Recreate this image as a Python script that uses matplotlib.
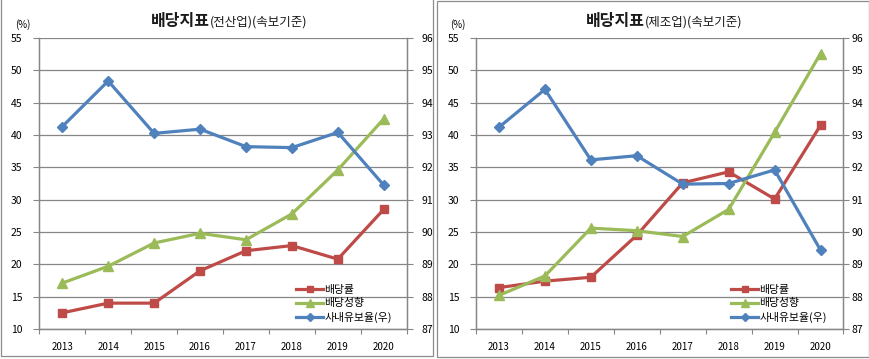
import matplotlib
matplotlib.use("Agg")
import matplotlib.pyplot as plt
from matplotlib.patches import Rectangle

plt.rcParams['font.family'] = ['Noto Sans CJK KR', 'DejaVu Sans']

years = ['2013', '2014', '2015', '2016', '2017', '2018', '2019', '2020']

# 전산업
all_rate = [12.5, 14.0, 14.0, 19.0, 22.1, 22.9, 20.8, 28.5]
all_payout = [17.1, 19.7, 23.3, 24.8, 23.8, 27.8, 34.6, 42.5]
all_retain = [93.26, 94.67, 93.05, 93.18, 92.64, 92.61, 93.08, 91.45]

# 제조업
mfg_rate = [16.4, 17.4, 18.0, 24.5, 32.6, 34.3, 30.1, 41.5]
mfg_payout = [15.2, 18.2, 25.6, 25.2, 24.3, 28.5, 40.4, 52.6]
mfg_retain = [93.24, 94.41, 92.23, 92.36, 91.48, 91.50, 91.92, 89.44]

titles = ['배당지표', '배당지표']
subtitles = ['(전산업)(속보기준)', '(제조업)(속보기준)']
legend_labels = ['배당률', '배당성향', '사내유보율(우)']
left_ticks = [10, 15, 20, 25, 30, 35, 40, 45, 50, 55]
right_ticks = [87, 88, 89, 90, 91, 92, 93, 94, 95, 96]

W, H = 870, 359
fig = plt.figure(figsize=(W / 100, H / 100), dpi=100)

RED = '#BE4B48'
GREEN = '#9BBB59'
BLUE = '#4F81BD'
GRID = '#868686'

def fx(px):
    return px / W

def fy(py):
    return 1 - py / H

# panel borders
for (x0, y0, x1, y1) in [(1.5, -2, 433.3, 355.7), (437.3, 1, 869, 356.7)]:
    fig.patches.append(Rectangle((fx(x0), fy(y1)), fx(x1 - x0), (y1 - y0) / H,
                                 transform=fig.transFigure, fill=False,
                                 edgecolor='#8c8c8c', linewidth=0.9))

panels = [
    (39.3, 406.7, all_rate, all_payout, all_retain, 0, 7),
    (476.0, 843.5, mfg_rate, mfg_payout, mfg_retain, 1, 2),
]

top, bot = 38, 329
xs = list(range(len(years)))
for (x0, x1, rate, payout, retain, i, rpad) in panels:
    ax = fig.add_axes([fx(x0), fy(bot), fx(x1 - x0), (bot - top) / H])
    ax2 = ax.twinx()
    ax.set_xlim(-0.5, 7.5)
    ax.set_ylim(10, 55)
    ax2.set_ylim(87, 96)
    ax.set_yticks(left_ticks)
    ax2.set_yticks(right_ticks)
    ax.set_xticks(xs)
    ax.set_xticklabels(years)
    ax.set_xticks([k + 0.5 for k in range(-1, 8)], minor=True)
    ax.tick_params(axis='x', which='major', length=0, pad=9, labelsize=7)
    ax.tick_params(axis='x', which='minor', length=3.5, color=GRID, width=0.8, direction='out')
    ax.tick_params(axis='y', length=4, color=GRID, width=0.8, pad=8, labelsize=7.5)
    ax2.tick_params(axis='y', length=4, color=GRID, width=0.8, pad=rpad, labelsize=7.5)
    for a in (ax, ax2):
        a.spines['top'].set_visible(False)
        for s in ('left', 'right', 'bottom'):
            a.spines[s].set_color(GRID)
            a.spines[s].set_linewidth(0.9)
    ax.grid(axis='y', color=GRID, linewidth=0.9)
    ax.set_axisbelow(True)

    l1, = ax.plot(xs, rate, color=RED, linewidth=2.3, marker='s', markersize=6,
                  label=legend_labels[0])
    l2, = ax.plot(xs, payout, color=GREEN, linewidth=2.3, marker='^', markersize=6.5,
                  label=legend_labels[1])
    l3, = ax2.plot(xs, retain, color=BLUE, linewidth=2.3, marker='D', markersize=5.5,
                   label=legend_labels[2])

    off = 0 if i == 0 else 435
    ax2.legend(handles=[l1, l2, l3], loc='upper left',
               bbox_to_anchor=(fx(296 + off), fy(285)), bbox_transform=fig.transFigure,
               frameon=False, fontsize=7.8, handlelength=2.5, handletextpad=0.1,
               labelspacing=0.3, borderpad=0, borderaxespad=0, numpoints=1,
               markerscale=0.8)

    # title
    tx = 210 + off
    fig.text(fx(tx), fy(26), titles[i], ha='right', va='baseline', fontsize=11.5,
             fontweight='bold', color='#1a1a1a')
    fig.text(fx(tx), fy(26), subtitles[i], ha='left', va='baseline', fontsize=9,
             color='#1a1a1a')
    # (%) label
    fig.text(fx(23 + off), fy(24.5), '(%)', ha='center', va='center', fontsize=7)

fig.savefig('out.png', dpi=100)
